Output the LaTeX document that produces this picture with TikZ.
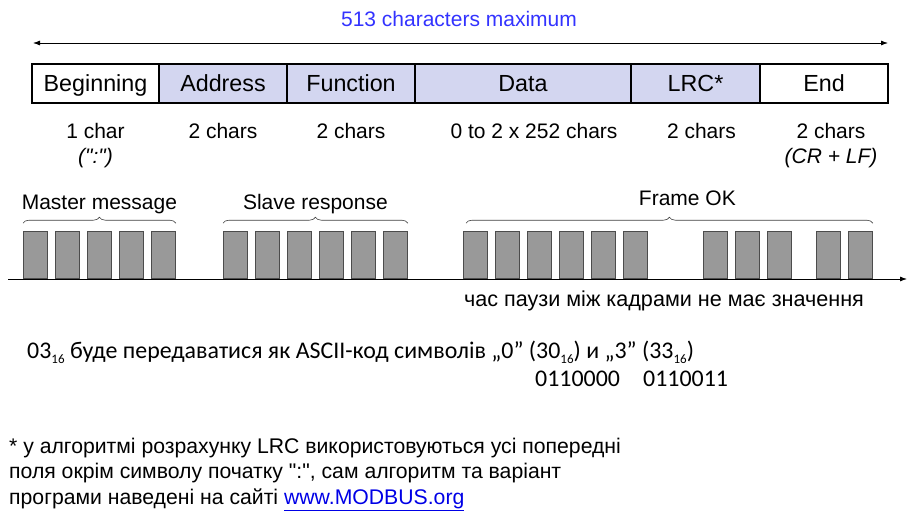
\documentclass[tikz,border=0pt]{standalone}
\usepackage{fontspec}
\setmainfont{Liberation Sans}
\newfontfamily\calibri{Carlito}
\usetikzlibrary{arrows.meta,positioning,decorations.pathreplacing}
\definecolor{fieldfill}{RGB}{211,214,240}
\definecolor{blockgray}{RGB}{153,153,153}
\definecolor{titleblue}{RGB}{51,51,255}
\definecolor{linkblue}{RGB}{0,0,230}
\newcommand{\hexsub}[1]{\raisebox{-0.45ex}{\fontsize{13}{13}\selectfont #1}}

\begin{document}
\begin{tikzpicture}[
        x=1pt, y=-1pt,
        >={Latex[length=7pt,width=5pt]},
        field/.style={draw, line width=1.3pt, minimum height=39pt, inner sep=0pt, outer sep=0pt, text height=16.7pt, text depth=0pt, font=\fontsize{23.3}{27}\selectfont},
        hdr/.style={field, fill=fieldfill},
        sub/.style={font=\fontsize{21}{25}\selectfont, inner sep=0pt, anchor=base},
        subit/.style={sub, font=\fontsize{21}{25}\selectfont\itshape},
        blk/.style={draw=black!70, fill=blockgray, line width=0.8pt, minimum width=24pt, minimum height=47pt, inner sep=0pt, anchor=south west},
        brc/.style={decorate, decoration={brace, amplitude=6pt}, draw=black!75, line width=0.6pt},
        lbl/.style={font=\fontsize{21}{25}\selectfont, inner sep=0pt},
        hexfont/.style={font=\calibri\fontsize{23.9}{28}\selectfont, inner sep=0pt, anchor=base west},
        note/.style={font=\fontsize{21.2}{25}\selectfont, inner sep=0pt, anchor=base west}
      ]
      \useasboundingbox (0,0) rectangle (911,517);

      % --- Frame fields ---
      \node[field, minimum width=127pt, anchor=west] (beg) at (32,83.5) {Beginning};
      \node[hdr, minimum width=128pt, right=0pt of beg] (adr) {Address};
      \node[hdr, minimum width=128pt, right=0pt of adr] (fun) {Function};
      \node[hdr, minimum width=216pt, right=0pt of fun] (dat) {Data};
      \node[hdr, minimum width=129pt, right=0pt of dat] (lrc) {LRC*};
      \node[field, minimum width=128pt, right=0pt of lrc] (fin) {End};

      % --- Total length ---
      \coordinate (lenL) at (33,43);
      \coordinate (lenR) at (888,43);
      \draw[<->, line width=0.8pt] (lenL) -- (lenR);
      \node[lbl, text=titleblue] (max) at (459,19) {513 characters maximum};

      % --- Field sizes ---
      \node[sub] (sbeg) at ([yshift=-35pt]beg.south) {1 char};
      \node[subit] (qbeg) at ([yshift=-25pt]sbeg.base) {(\textquotedbl:\textquotedbl)};
      \node[sub] (sadr) at ([yshift=-35pt]adr.south) {2 chars};
      \node[sub] (sfun) at ([yshift=-35pt]fun.south) {2 chars};
      \node[sub] (sdat) at ([yshift=-35pt,xshift=11pt]dat.south) {0 to 2 x 252 chars};
      \node[sub] (slrc) at ([yshift=-35pt,xshift=6pt]lrc.south) {2 chars};
      \node[sub] (sfin) at ([yshift=-35pt,xshift=7pt]fin.south) {2 chars};
      \node[subit] (qfin) at ([yshift=-25pt]sfin.base) {(CR + LF)};

      % --- Time line ---
      \coordinate (tL) at (8,279);
      \coordinate (tR) at (907,279);
      \draw[->, line width=0.8pt] (tL) -- (tR);

      \foreach \x [count=\i] in {23,55,87,119,151}
        \node[blk] (m\i) at (\x,279) {};
      \foreach \x [count=\i] in {223,255,287,319,351,383}
        \node[blk] (s\i) at (\x,279) {};
      \foreach \x [count=\i] in {463,495,527,559,591,623,703,735,767,816,848}
        \node[blk] (f\i) at (\x,279) {};

      % braces
      \draw[brc] ([yshift=8pt]m1.north west) -- node[lbl, above=9.5pt] {Master message} ([yshift=8pt]m5.north east);
      \draw[brc] ([yshift=8pt]s1.north west) -- node[lbl, above=9.5pt] {Slave response} ([yshift=8pt]s6.north east);
      \draw[brc] ([yshift=8pt,xshift=3pt]f1.north west) -- node[lbl, above=17pt, xshift=18pt] {Frame OK} ([yshift=8pt]f11.north east);

      \node[lbl, anchor=base, font=\fontsize{21.6}{25}\selectfont] (pause) at (664,306) {час паузи між кадрами не має значення};

      % --- ASCII example ---
      \node[hexfont] (hex) at (27,358)
        {03\hexsub{16} буде передаватися як ASCII-код символів „0” (30\hexsub{16}) и „3” (33\hexsub{16})};
      \node[hexfont] (bin0) at (535,386) {0110000};
      \node[hexfont] (bin3) at (643,386) {0110011};

      % --- Footnote ---
      \node[note] (n1) at (9,453) {* у алгоритмі розрахунку LRC використовуються усі попередні};
      \node[note] (n2) at ([yshift=-25.5pt]n1.base west) {поля окрім символу початку \textquotedbl:\textquotedbl, сам алгоритм та варіант};
      \node[note] (n3) at ([yshift=-25.5pt]n2.base west) {програми наведені на сайті \textcolor{linkblue}{\underline{www.MODBUS.org}}};

    \end{tikzpicture}
\end{document}
